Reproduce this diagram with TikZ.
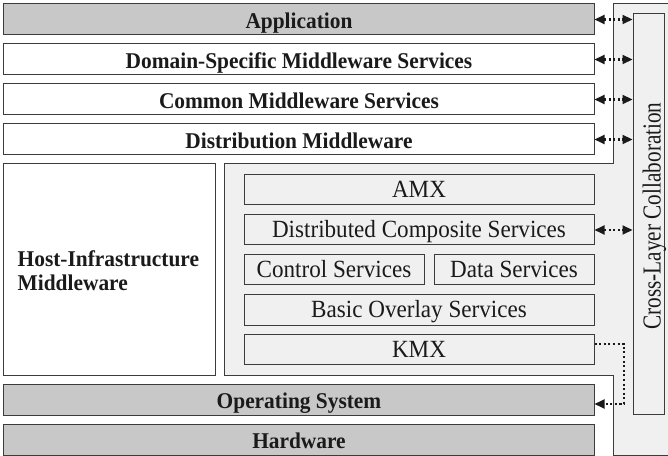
\documentclass[tikz,border=0pt]{standalone}
\usepackage{fontspec}
\setmainfont{Liberation Serif}
\newfontfamily\layerfont{Liberation Serif}[FakeStretch=0.95]
\newfontfamily\svcfont{Liberation Serif}[FakeStretch=0.935]
\newfontfamily\colfont{Liberation Serif}[FakeStretch=0.82]
\usetikzlibrary{arrows.meta}
\definecolor{edge}{HTML}{3C3C3C}
\definecolor{panel}{HTML}{F0F0F0}
\definecolor{boxgray}{HTML}{C8C8C8}
\definecolor{ink}{HTML}{1A1A1A}
\begin{document}
\begin{tikzpicture}[x=1bp,y=-1bp,
  box/.style={draw=edge, line width=1bp, inner sep=0pt, text=ink, anchor=center},
  layer/.style={box, fill=white, minimum width=590bp, minimum height=31bp,
    text height=18bp, text depth=0pt,
    font=\layerfont\bfseries\fontsize{22.6}{25}\selectfont},
  graylayer/.style={layer, fill=boxgray},
  svc/.style={box, fill=panel, minimum height=30bp,
    text height=16bp, text depth=0pt,
    font=\svcfont\fontsize{24.8}{27}\selectfont},
  dots/.style={line width=2.1bp, dash pattern=on 2.1bp off 2.5bp, draw=ink},
  link/.style={dots,
    {Triangle[length=10bp,width=9bp]}-{Triangle[length=10bp,width=9bp]}},
  onelink/.style={dots, -{Triangle[length=10bp,width=9bp]}}]
\useasboundingbox (0,0) rectangle (668,456);
\fill[white] (0,0) rectangle (668,456);

% light panel holding the overlay stack and the collaboration column
\draw[edge, line width=1bp, fill=panel]
  (613,4) -- (668,4) -- (668,455.5) -- (613,455.5) -- (613,375)
  -- (224,375) -- (224,164) -- (613,164) -- cycle;

% middleware layers
\node[graylayer] (app)  at (299,19.5)  {Application};
\node[layer]     (dom)  at (299,59.5)  {Domain-Specific Middleware Services};
\node[layer]     (com)  at (299,99.5)  {Common Middleware Services};
\node[layer]     (dist) at (299,139.5) {Distribution Middleware};

\node[box, fill=white, minimum width=211bp, minimum height=211bp] (host) at (109.5,269.5) {};
\node[align=left, text=ink, inner sep=0pt, anchor=west,
  font=\layerfont\bfseries\fontsize{22.6}{24}\selectfont] (hosttext) at (17.5,270.6)
  {Host-Infrastructure\\Middleware};

% overlay stack
\node[svc, minimum width=350bp] (amx)  at (419,190) {AMX};
\node[svc, minimum width=350bp] (dcs)  at (419,230) {Distributed Composite Services};
\node[svc, minimum width=180bp] (ctrl) at (334,270) {Control Services};
\node[svc, minimum width=160bp] (data) at (514,270) {Data Services};
\node[svc, minimum width=350bp] (bos)  at (419,310) {Basic Overlay Services};
\node[svc, minimum width=350bp] (kmx)  at (419,349) {KMX};

\node[graylayer] (os) at (299,399.5) {Operating System};
\node[graylayer] (hw) at (299,439.5) {Hardware};

% cross-layer column
\node[box, fill=panel, minimum width=31bp, minimum height=400bp] (collab) at (648.5,214) {};
\node[rotate=90, anchor=base, text=ink, inner sep=0pt,
  font=\colfont\fontsize{26}{28}\selectfont] (collabtext) at (660.5,216)
  {Cross-Layer Collaboration};

% links into the collaboration column
\foreach \n in {app,dom,com,dist,dcs}
  \draw[link] (\n.east) -- (\n.east -| collab.west);

% KMX feeds the operating system
\coordinate (kmxout) at ([yshift=5bp]kmx.east);
\coordinate (osin) at ([yshift=-4.5bp]os.east);
\coordinate (bend) at (624,0);
\draw[onelink] (kmxout) -- (kmxout -| bend) -- (osin -| bend) -- (osin);
\end{tikzpicture}
\end{document}
